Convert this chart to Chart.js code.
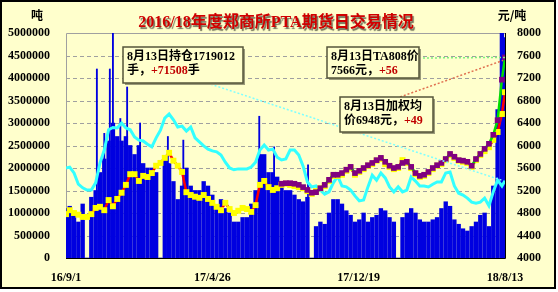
<!DOCTYPE html>
<html>
<head>
<meta charset="utf-8">
<script src="https://cdn.jsdelivr.net/npm/chart.js@4.4.0/dist/chart.umd.min.js"></script>
<style>
  body { margin: 0; background: #fff; }
  #wrap { width: 558px; height: 292px; }
</style>
</head>
<body>
<div id="wrap"><canvas id="ptaChart" width="558" height="292"></canvas></div>
<script>
// x axis: days after 16/9/1
const tickLabels = ['16/9/1', '17/4/26', '17/12/19', '18/8/13'];
const tickDays   = [0, 237, 474, 711];

// one value per trading week, week i centred on day 7*i-1 (last = 18/8/13)
const volume = [   // 成交量, 万吨
  110, 115, 100, 80, 120, 0, 135, 150, 190, 220,
  260, 300, 270, 260, 270, 250, 230, 250, 210, 200,
  200, 190, 0, 220, 210, 170, 130, 160, 200, 160,
  150, 150, 170, 160, 140, 110, 130, 110, 100, 80,
  80, 90, 90, 120, 150, 230, 230, 190, 190, 180,
  160, 150, 150, 140, 130, 125, 135, 0, 70, 80,
  75, 100, 130, 130, 120, 105, 95, 80, 85, 100,
  80, 90, 95, 110, 105, 90, 80, 0, 90, 100,
  110, 100, 85, 80, 80, 85, 90, 110, 125, 115,
  85, 75, 65, 60, 70, 80, 95, 100, 70, 160,
  330, 500, 490
];
const position = [ // 持仓, 万手
  200, 202, 189, 164, 156, 151, 151, 167, 211, 240,
  285, 290, 289, 300, 289, 285, 269, 262, 260, 253,
  247, 267, 284, 311, 320, 307, 291, 293, 282, 291,
  267, 258, 249, 242, 238, 236, 229, 213, 200, 196,
  198, 198, 198, 202, 213, 240, 251, 240, 242, 224,
  218, 220, 240, 240, 229, 204, 169, 158, 160, 151,
  142, 147, 167, 182, 160, 158, 151, 138, 127, 129,
  158, 184, 173, 189, 178, 158, 147, 158, 147, 151,
  180, 171, 160, 160, 158, 164, 169, 169, 189, 191,
  160, 144, 140, 133, 124, 122, 124, 133, 116, 147,
  173, 160, 171.9
];
const avgPrice = [ // 加权均价, 元/吨
  4780, 4850, 4800, 4770, 4730, 4730, 4780, 4890, 4910, 4850,
  5030, 4920, 5050, 5160, 5300, 5490, 5490, 5370, 5460, 5440,
  5510, 5640, 5690, 5780, 5870, 5730, 5640, 5530, 5170, 5120,
  5090, 5070, 5120, 5050, 4980, 4910, 4850, 4980, 4870, 4800,
  4840, 4890, 4870, 4820, 4940, 5300, 5370, 5260, 5210, 5240,
  5300, 5320, 5300, 5280, 5260, 5240, 5190, 5140, 5190, 5240,
  5280, 5370, 5460, 5460, 5480, 5550, 5600, 5480, 5530, 5580,
  5640, 5670, 5730, 5760, 5670, 5620, 5580, 5600, 5740, 5690,
  5600, 5490, 5440, 5460, 5510, 5580, 5640, 5670, 5740, 5830,
  5780, 5730, 5710, 5690, 5620, 5740, 5830, 5900, 5970, 6100,
  6240, 6560, 6948
];
const ta808Start = 50; // TA808 quoted from week 50
const ta808 = [    // 元/吨
  5320, 5330, 5330, 5320, 5300, 5260, 5210, 5160, 5170, 5240,
  5300, 5390, 5480, 5480, 5510, 5570, 5620, 5510, 5550, 5600,
  5650, 5690, 5740, 5780, 5710, 5640, 5600, 5620, 5690, 5710,
  5620, 5510, 5460, 5480, 5530, 5600, 5650, 5690, 5760, 5850,
  5800, 5740, 5730, 5710, 5640, 5760, 5850, 5940, 6030, 6190,
  6450, 7170, 7566
];

// single days whose volume sticks out above the weekly bars
const peakDays   = [50, 62, 71, 76, 88, 99, 120, 165, 190, 313, 337, 392];
const peakVolume = [420, 277, 420, 500, 310, 380, 300, 270, 262, 315, 247, 207];

const UNIT = 10000;
const weekDays = volume.map((_, i) => Math.min(711, Math.max(0, 7 * i - 1)));

const tickFont = { family: '"Liberation Serif", "Times New Roman", serif', size: 12, weight: 'bold' };
const boxFont  = 'bold 12px "Liberation Serif", "Noto Sans CJK SC", serif';

const notes = [
  { x: 123, y: 47, w: 120, h: 36, lines: [
    [['8月13日持仓1719012', '#000']],
    [['手，', '#000'], ['+71508', '#C00000'], ['手', '#000']] ] },
  { x: 327, y: 47, w: 92, h: 31, lines: [
    [['8月13日TA808价', '#000']],
    [['7566元，', '#000'], ['+56', '#C00000']] ] },
  { x: 340, y: 97, w: 93, h: 35, lines: [
    [['8月13日加权均', '#000']],
    [['价6948元，', '#000'], ['+49', '#C00000']] ] },
];

function dotted(ctx, x0, y0, x1, y1, color) {
  ctx.save();
  ctx.strokeStyle = color;
  ctx.lineWidth = 1.5;
  ctx.setLineDash([2, 2]);
  ctx.beginPath(); ctx.moveTo(x0, y0); ctx.lineTo(x1, y1); ctx.stroke();
  ctx.restore();
}

const decor = {
  id: 'decor',
  beforeDraw(chart) {
    const { ctx, width, height } = chart;
    ctx.save();
    ctx.fillStyle = '#fff';
    ctx.fillRect(0, 0, width, height);
    ctx.fillStyle = '#FFFFCC';
    ctx.fillRect(1, 1, 554, 287);
    ctx.restore();
  },
  beforeDatasetsDraw(chart) {
    const { ctx, chartArea: a, scales: { y } } = chart;
    ctx.save();
    ctx.strokeStyle = '#A0A0A0';
    ctx.lineWidth = 1;
    ctx.setLineDash([4, 3]);
    y.ticks.forEach(t => {
      if (t.value <= 0 || t.value >= 5000000) return;
      const py = Math.round(y.getPixelForValue(t.value)) + 0.5;
      ctx.beginPath(); ctx.moveTo(a.left, py); ctx.lineTo(a.right, py); ctx.stroke();
    });
    ctx.setLineDash([]);
    ctx.beginPath();
    ctx.moveTo(a.left + 0.5, a.bottom);
    ctx.lineTo(a.left + 0.5, a.top + 0.5);
    ctx.lineTo(a.right, a.top + 0.5);
    ctx.stroke();
    ctx.restore();
  },
  afterDatasetsDraw(chart) {
    const { ctx, chartArea: a } = chart;
    ctx.save();
    ctx.strokeStyle = '#000';
    ctx.lineWidth = 1;
    ctx.beginPath();
    ctx.moveTo(a.left, a.bottom + 0.5);
    ctx.lineTo(a.right + 0.5, a.bottom + 0.5);
    ctx.lineTo(a.right + 0.5, a.top);
    ctx.stroke();
    ctx.restore();
  },
  afterDraw(chart) {
    const { ctx, scales: { x, y, y1 } } = chart;
    ctx.save();

    // frame
    ctx.strokeStyle = '#000';
    ctx.lineWidth = 2;
    ctx.strokeRect(1, 1, 554, 287);

    // title + units
    ctx.textAlign = 'center';
    ctx.textBaseline = 'middle';
    ctx.font = 'bold 16px "Liberation Serif", "Noto Sans CJK SC", serif';
    ctx.shadowColor = 'rgba(0,0,0,0.55)';
    ctx.shadowOffsetX = 1.5; ctx.shadowOffsetY = 1.5; ctx.shadowBlur = 1;
    ctx.fillStyle = '#D00000';
    ctx.fillText('2016/18年度郑商所PTA期货日交易情况', 276, 23);
    ctx.shadowColor = 'transparent';
    ctx.fillStyle = '#000';
    ctx.font = 'bold 12px "Noto Sans CJK SC", sans-serif';
    ctx.fillText('吨', 37, 15);
    ctx.fillText('元/吨', 512, 15);

    // leader lines to the last values
    const endX = x.getPixelForValue(711);
    const posY = y.getPixelForValue(position[position.length - 1] * UNIT);
    const taY  = y1.getPixelForValue(ta808[ta808.length - 1]);
    dotted(ctx, 207, 83, endX - 2, posY, '#7FFFFF');
    dotted(ctx, 419, 58, endX, taY, '#7FF07F');
    dotted(ctx, 400, 97, endX - 2, taY + 3, '#E07050');

    // note boxes
    ctx.textAlign = 'left';
    notes.forEach(n => {
      ctx.fillStyle = '#9A9A7A';
      ctx.fillRect(n.x + 2, n.y + 2, n.w, n.h);
      ctx.fillStyle = '#FFFFCC';
      ctx.fillRect(n.x, n.y, n.w, n.h);
      ctx.strokeStyle = '#55553A';
      ctx.lineWidth = 1.5;
      ctx.strokeRect(n.x, n.y, n.w, n.h);
      ctx.font = boxFont;
      n.lines.forEach((runs, li) => {
        let tx = n.x + 4;
        const ty = n.y + 10 + li * 14;
        runs.forEach(([t, c]) => {
          ctx.fillStyle = c;
          ctx.fillText(t, tx, ty);
          tx += ctx.measureText(t).width;
        });
      });
    });
    ctx.restore();
  }
};

new Chart(document.getElementById('ptaChart'), {
  type: 'bar',
  data: {
    datasets: [
      {
        type: 'line', label: 'TA808价', yAxisID: 'y1', order: 1,
        data: ta808.map((v, j) => ({ x: weekDays[j + ta808Start], y: v })),
        borderColor: '#00DD00', borderWidth: 2.5, tension: 0,
        pointStyle: 'rect', pointRadius: 4, pointBackgroundColor: '#800080', pointBorderWidth: 0,
      },
      {
        type: 'line', label: '加权均价', yAxisID: 'y1', order: 2,
        data: avgPrice.map((v, i) => ({ x: weekDays[i], y: v })),
        borderColor: '#FF0000', borderWidth: 2.5, tension: 0,
        pointStyle: 'rect', pointRadius: 4.2, pointBackgroundColor: '#FFFF00', pointBorderWidth: 0,
      },
      {
        type: 'line', label: '持仓', yAxisID: 'y', order: 3,
        data: position.map((v, i) => ({ x: weekDays[i], y: v * UNIT })),
        borderColor: '#33FFFF', borderWidth: 3, tension: 0, pointRadius: 0,
      },
      {
        label: '成交量峰值', yAxisID: 'y', order: 4, grouped: false, clip: 0,
        data: peakDays.map((d, i) => ({ x: d, y: peakVolume[i] * UNIT })),
        backgroundColor: '#0000E0', barThickness: 1.2,
      },
      {
        label: '成交量', yAxisID: 'y', order: 5, grouped: false, clip: 0,
        data: volume.map((v, i) => ({ x: weekDays[i], y: v * UNIT })),
        backgroundColor: '#0000E0', barThickness: 3.7,
      },
    ],
  },
  options: {
    responsive: false,
    animation: false,
    events: [],
    layout: { padding: { top: 33, left: 0, right: 0, bottom: 0 } },
    plugins: { legend: { display: false }, tooltip: { enabled: false } },
    scales: {
      x: {
        type: 'linear', min: 0, max: 711, offset: false,
        grid: { display: false, drawTicks: false }, border: { display: false },
        afterBuildTicks: s => { s.ticks = tickDays.map(v => ({ value: v })); },
        afterFit: s => { s.height = 34; },
        ticks: { autoSkip: false, maxRotation: 0, padding: 13, color: '#000', font: tickFont,
                 callback: (v, i) => tickLabels[i] },
      },
      y: {
        position: 'left', min: 0, max: 5000000,
        grid: { display: false, drawTicks: false }, border: { display: false },
        afterFit: s => { s.width = 66; },
        ticks: { stepSize: 500000, padding: 16, color: '#000', font: tickFont, callback: v => String(v) },
      },
      y1: {
        position: 'right', min: 4000, max: 8000,
        grid: { display: false, drawTicks: false }, border: { display: false },
        afterFit: s => { s.width = 53; },
        ticks: { stepSize: 400, padding: 12, color: '#000', font: tickFont, callback: v => String(v) },
      },
    },
  },
  plugins: [decor],
});
</script>
</body>
</html>
